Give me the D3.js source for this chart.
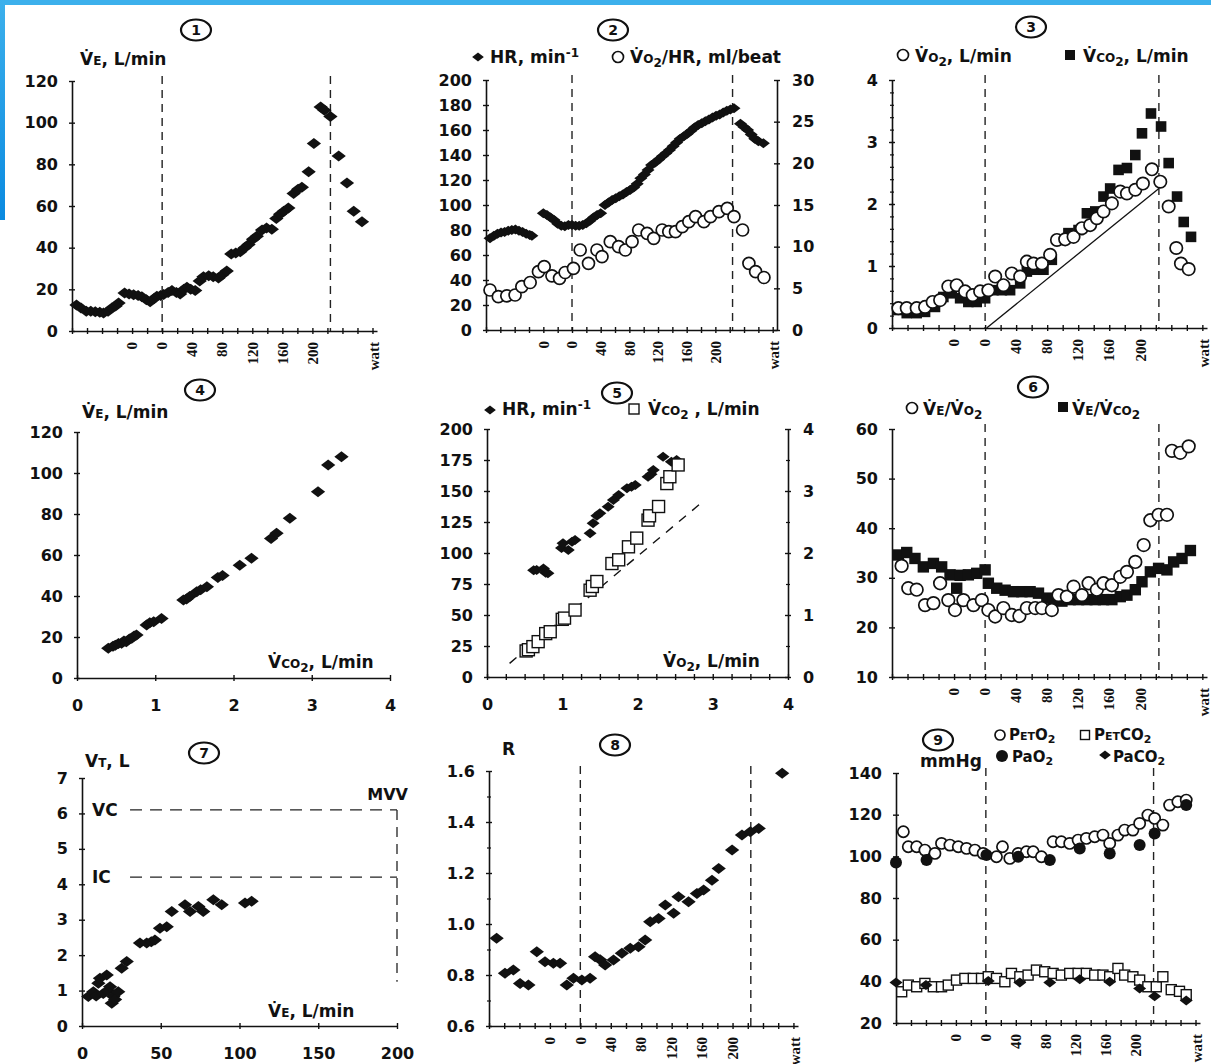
<!DOCTYPE html>
<html lang="en">
<head>
<meta charset="UTF-8">
<title>Nine-panel exercise test</title>
<script src="https://cdn.jsdelivr.net/npm/d3@7"></script>
<style>
  body { margin: 0; background: #fff; }
  svg text { font-family: "DejaVu Sans", sans-serif; font-weight: bold; fill: #111; }
  svg text.rot { font-family: "Liberation Serif", serif; }
</style>
</head>
<body>
<svg id="chart" width="1211" height="1064"></svg>
<script>
// ---- time axis (all time panels) ----
var timeTickPos = [4, 6, 8, 10, 12, 14, 16, 20.1];
var timeTickLab = ['0', '0', '40', '80', '120', '160', '200', 'watt'];
var phaseT = [6, 17.2];

// ---- panel 1: VE vs time ----
var ve = [[0.3,12.5],[0.6,11],[0.95,9.5],[1.25,9.5],[1.55,9.3],[1.85,9],[2.1,8.6],[2.4,9.5],[2.65,11],[2.9,12],[3.1,13.4],
  [3.5,18.2],[3.8,17.8],[4.1,17.4],[4.4,17],[4.65,16.5],[4.95,15],[5.2,14],[5.45,15.5],[5.65,16.7],[5.9,17],[6.1,17.5],
  [6.4,18.5],[6.65,19.5],[6.95,18.5],[7.2,17.8],[7.45,20],[7.65,21],[7.9,20],[8.2,19.5],[8.5,24],[8.75,26],[9.1,26.5],
  [9.4,26],[9.75,25.5],[10,27],[10.3,28.8],[10.6,37],[10.9,37.5],[11.2,38],[11.5,40],[11.75,41.5],[12.05,44],[12.3,45.5],
  [12.65,48.5],[12.95,49.5],[13.3,48.8],[13.6,54],[13.85,56],[14.1,57.5],[14.4,59],[14.75,66],[15.05,68],[15.3,69],
  [15.75,76.5],[16.1,90],[16.55,107.5],[16.8,106],[17.2,103],[17.75,84],[18.3,71],[18.75,57.5],[19.3,52.5]];

// ---- panel 2: HR and VO2/HR vs time ----
var hr = [[0.28,73.5],[0.55,75.5],[0.8,77],[1.05,78],[1.3,78.5],[1.55,79.5],[1.8,80],[2.05,80.5],[2.3,79.5],[2.55,78.5],
  [2.8,77],[3.05,76],[3.2,75.5],[4.0,93.5],[4.25,92],[4.5,90],[4.75,88],[5.0,85],[5.25,83.5],[5.5,83],[5.75,84],[6.0,84],
  [6.25,83.5],[6.5,83.5],[6.75,84],[7.0,85.5],[7.25,87.5],[7.5,90],[7.75,92],[8.0,93.5],[8.3,100],[8.55,102],[8.8,104],
  [9.05,105.5],[9.3,107],[9.55,108.5],[9.8,110.5],[10.05,112],[10.3,114],[10.55,117],[10.8,121.5],[11.05,124.5],
  [11.3,128],[11.55,132],[11.8,134],[12.05,136.5],[12.3,139],[12.55,141.5],[12.8,144],[13.05,147],[13.3,150],
  [13.55,153],[13.8,155],[14.05,157],[14.3,159.5],[14.55,162],[14.8,164],[15.05,165.5],[15.3,167],[15.55,168.5],
  [15.8,170],[16.05,171.5],[16.3,172.5],[16.55,174],[16.8,175.5],[17.05,176.5],[17.3,177.5],[17.75,165],[18.0,162.5],
  [18.25,160],[18.5,156.5],[18.75,153],[19.0,151],[19.35,149.5]];
var o2pulse = [[0.28,4.8],[0.86,4.0],[1.45,4.1],[2.03,4.2],[2.5,5.2],[3.08,5.7],[3.66,7.0],[4.06,7.6],[4.6,6.5],[5.13,6.2],
  [5.52,6.9],[6.1,7.4],[6.57,9.6],[7.15,8.0],[7.74,9.6],[8.09,8.8],[8.67,10.6],[9.25,10.0],[9.72,9.6],[10.19,10.6],
  [10.65,12.0],[11.24,11.6],[11.7,11.0],[12.29,12.0],[12.75,11.8],[13.22,11.8],[13.69,12.4],[14.15,13.0],[14.62,13.6],
  [15.2,13.0],[15.66,13.6],[16.25,14.2],[16.83,14.6],[17.3,13.6],[17.9,12.0],[18.34,8.0],[18.81,7.0],[19.39,6.3]];

// ---- panel 3: VO2 and VCO2 vs time ----
var vo2 = [[0.41,0.32],[0.95,0.32],[1.59,0.32],[2.13,0.34],[2.62,0.42],[3.1,0.45],[3.63,0.67],[4.17,0.69],[4.71,0.59],
  [5.2,0.53],[5.68,0.59],[6.21,0.61],[6.65,0.83],[7.18,0.69],[7.72,0.88],[8.26,0.83],[8.69,1.07],[9.12,1.04],[9.66,1.04],
  [10.19,1.18],[10.63,1.42],[11.16,1.43],[11.7,1.47],[12.24,1.61],[12.77,1.66],[13.2,1.77],[13.63,1.88],[14.17,2.01],
  [14.71,2.2],[15.14,2.17],[15.68,2.23],[16.17,2.33],[16.75,2.56],[17.29,2.36],[17.83,1.96],[18.32,1.29],[18.62,1.04],[19.12,0.95]];
var vco2 = [[0.41,0.29],[0.95,0.24],[1.59,0.24],[2.13,0.26],[2.77,0.34],[3.31,0.5],[3.85,0.56],[4.39,0.48],[4.92,0.42],
  [5.46,0.42],[6.0,0.48],[6.54,0.61],[7.08,0.61],[7.61,0.61],[8.26,0.72],[8.69,0.91],[9.23,0.94],[9.76,0.94],[10.3,1.1],
  [10.84,1.42],[11.37,1.53],[12.02,1.58],[12.56,1.85],[13.1,1.88],[13.63,2.12],[14.06,2.25],[14.6,2.55],[15.14,2.58],
  [15.68,2.79],[16.11,3.14],[16.69,3.46],[17.34,3.25],[17.83,2.66],[18.37,2.12],[18.8,1.71],[19.27,1.47]];
var slopeLine3 = [[6.1,0],[17.2,2.25]];

// ---- panel 4: VE vs VCO2 ----
var veVco2 = [[0.40,14.5],[0.46,15.5],[0.49,16],[0.53,16.8],[0.57,17],[0.6,18],[0.63,17.7],[0.67,19],[0.70,19.4],
  [0.73,20.5],[0.76,21],[0.89,25.9],[0.93,27],[0.98,27.5],[1.08,29],[1.36,38],[1.40,38.5],[1.44,39.7],[1.53,42.1],
  [1.58,43],[1.66,44.5],[1.80,49],[1.86,50],[2.08,55],[2.23,58.4],[2.48,68.1],[2.55,70.6],[2.72,77.9],[3.08,90.9],
  [3.21,103.9],[3.38,107.9]];

// ---- panel 5: HR and VCO2 vs VO2 ----
var hrVo2 = [[0.62,86],[0.66,86.3],[0.75,87.6],[0.78,84],[0.81,83.6],[0.99,104],[1.01,107.8],[1.08,102.4],[1.13,109],
  [1.17,110.5],[1.37,115.9],[1.41,123.9],[1.46,130],[1.5,132],[1.61,137.3],[1.68,142.7],[1.75,146.8],[1.86,152.2],
  [1.92,153.5],[1.97,154.8],[2.14,161.5],[2.18,163.5],[2.21,166.9],[2.34,177.7],[2.45,173.6],[2.52,175]];
var vco2Vo2 = [[0.52,0.42],[0.55,0.44],[0.61,0.49],[0.68,0.57],[0.78,0.7],[0.84,0.73],[1.0,0.93],[1.03,0.95],[1.17,1.08],
  [1.37,1.40],[1.4,1.46],[1.46,1.54],[1.66,1.83],[1.75,1.89],[1.88,2.10],[1.99,2.24],[2.14,2.53],[2.16,2.6],[2.28,2.75],
  [2.39,3.12],[2.43,3.23],[2.54,3.42]];
var rqLine = [[0.3,0.22],[2.82,2.78]];

// ---- panel 6: VE/VO2 and VE/VCO2 vs time ----
var eqO2 = [[0.62,32.4],[1.05,27.9],[1.59,27.6],[2.13,24.5],[2.67,24.9],[3.1,28.9],[3.63,25.5],[4.06,23.5],[4.6,25.5],
  [5.25,24.5],[5.79,25.5],[6.21,23.5],[6.65,22.2],[7.18,23.9],[7.72,22.5],[8.21,22.3],[8.69,23.9],[9.23,23.9],[9.66,23.9],
  [10.3,23.5],[10.73,26.5],[11.27,26.2],[11.7,28.2],[12.24,26.5],[12.67,28.9],[13.2,27.6],[13.63,28.9],[14.17,28.5],
  [14.71,30.2],[15.14,31.2],[15.68,33.2],[16.22,36.6],[16.65,41.6],[17.18,42.7],[17.72,42.7],[18.04,55.6],[18.58,55.2],[19.12,56.5]];
var eqCO2 = [[0.41,34.6],[0.95,35.1],[1.48,33.9],[2.02,32.2],[2.67,32.9],[3.2,32.2],[3.74,30.6],[4.17,27.9],[4.39,30.5],
  [4.92,30.6],[5.46,30.9],[6.0,31.6],[6.21,28.9],[6.75,27.9],[7.29,27.5],[7.83,27.2],[8.37,27.2],[8.9,27.2],[9.44,26.9],
  [9.98,25.9],[10.41,25.6],[10.95,25.3],[11.48,25.6],[12.02,25.6],[12.56,25.6],[13.1,25.6],[13.63,25.6],[14.17,25.6],
  [14.71,26.2],[15.14,26.5],[15.68,27.6],[16.11,29.2],[16.65,31.2],[17.18,31.9],[17.72,31.6],[18.15,33.2],[18.69,33.9],[19.23,35.5]];

// ---- panel 7: VT vs VE ----
var vtVe = [[4,0.83],[7.2,0.97],[9,0.85],[10.4,1.21],[11.4,1.35],[13.5,0.92],[15.7,1.44],[16.5,1.0],[17.8,1.11],[18.9,0.64],
  [19.9,0.83],[21,0.75],[23,0.97],[25.2,1.63],[28.4,1.82],[36.8,2.34],[41.1,2.34],[44,2.38],[46.3,2.43],[49.5,2.76],
  [53.8,2.8],[57,3.23],[65.4,3.42],[68.6,3.23],[73.9,3.37],[77,3.23],[83.4,3.56],[88.7,3.42],[103.5,3.47],[107.7,3.52]];
var vcLevel = 6.1, icLevel = 4.2, mvvLevel = 200, refStartVe = 30.5, mvvBottom = 1.25;

// ---- panel 8: R vs time ----
var rq = [[0.5,0.944],[1.05,0.807],[1.6,0.82],[2.04,0.767],[2.59,0.761],[3.14,0.891],[3.68,0.852],[4.23,0.846],[4.67,0.846],
  [5.11,0.761],[5.55,0.787],[6.1,0.78],[6.64,0.787],[6.97,0.872],[7.3,0.86],[7.63,0.839],[8.18,0.859],[8.73,0.885],[9.28,0.905],
  [9.82,0.911],[10.26,0.937],[10.59,1.009],[11.14,1.022],[11.58,1.075],[12.13,1.042],[12.45,1.107],[13.11,1.087],
  [13.66,1.12],[14.1,1.133],[14.65,1.172],[15.09,1.218],[15.97,1.29],[16.62,1.349],[17.17,1.362],[17.72,1.375],[19.26,1.591]];

// ---- panel 9: gas tensions vs time ----
var petO2 = [[0.49,111.8],[0.82,104.6],[1.38,104.6],[1.93,103],[2.6,101.4],[3.04,106.2],[3.6,105.4],[4.16,104.6],[4.71,103.8],
  [5.27,103],[5.82,101.4],[6.71,99.8],[7.11,104.6],[7.6,99],[8.16,101.4],[8.71,102.2],[9.16,102.2],[9.71,99.8],[10.49,107],
  [11.04,107],[11.6,106.2],[12.16,107.8],[12.71,108.6],[13.27,109.4],[13.82,110.2],[14.27,106.2],[14.82,110.2],[15.27,112.6],
  [15.82,112.6],[16.27,115.8],[16.82,119.8],[17.27,118.2],[17.82,115],[18.27,124.6],[18.82,126.2],[19.38,127]];
var paO2 = [[0.0,97],[2.04,98.2],[6.04,100.6],[8.16,99.8],[10.27,98.2],[12.27,103.8],[14.27,101.4],[16.27,105.4],[17.27,111],[19.38,124.6]];
var petCO2 = [[0.38,35],[0.82,38.2],[1.38,37.4],[1.93,39],[2.49,37.4],[3.04,37.4],[3.49,38.2],[4.04,40.6],[4.6,41.4],[5.16,41.4],
  [5.71,41.4],[6.16,42.2],[6.71,41.4],[7.27,39.8],[7.71,43.8],[8.27,42.2],[8.82,43],[9.38,45.4],[9.93,44.6],[10.49,43.8],
  [11.04,43],[11.6,43.8],[12.16,43.8],[12.71,43.8],[13.27,43],[13.82,43],[14.27,42.2],[14.82,46.2],[15.27,43],[15.82,42.2],
  [16.27,40.6],[16.82,37.4],[17.38,37.4],[17.82,42.2],[18.38,36],[18.93,35.2],[19.38,33.6]];
var paCO2 = [[0.0,39.5],[2.0,38.2],[6.16,40.2],[8.27,39.5],[10.27,39.5],[12.27,41],[14.27,39.8],[16.27,36.6],[17.27,32.8],[19.38,30.8]];

var INK = '#111';
var svg = d3.select('#chart');

// blue frame strips
var defs = svg.append('defs');
var grad = defs.append('linearGradient').attr('id', 'blueBar').attr('x1', 0).attr('y1', 0).attr('x2', 0).attr('y2', 1);
grad.append('stop').attr('offset', '0%').attr('stop-color', '#3cb0ec');
grad.append('stop').attr('offset', '100%').attr('stop-color', '#0a8ae0');
svg.append('rect').attr('x', 0).attr('y', 0).attr('width', 1211).attr('height', 5).attr('fill', '#3cb0ec');
svg.append('rect').attr('x', 0).attr('y', 0).attr('width', 5).attr('height', 220).attr('fill', 'url(#blueBar)');

// ---------- helpers ----------
function styleAxis(a, dir, size) {
  a.attr('font-size', size || 16).attr('font-family', 'DejaVu Sans');
  a.select('.domain').attr('stroke', INK).attr('stroke-width', 1.6);
  a.selectAll('.tick line').attr(dir + '1', -3).attr(dir + '2', 3).attr('stroke', INK).attr('stroke-width', 1.4);
  a.selectAll('.tick text').attr('fill', INK);
}

function leftAxis(g, y, xpos, values, fmt, minor) {
  var a = g.append('g').attr('transform', 'translate(' + xpos + ',0)')
    .call(d3.axisLeft(y).tickValues(values).tickSize(3).tickPadding(11).tickSizeOuter(0).tickFormat(fmt || d3.format('d')));
  styleAxis(a, 'x');
  if (minor) {
    var m = g.append('g').attr('transform', 'translate(' + xpos + ',0)')
      .call(d3.axisLeft(y).tickValues(minor).tickSize(2).tickFormat(''));
    m.select('.domain').remove();
    m.selectAll('.tick line').attr('x1', -2).attr('x2', 2).attr('stroke', INK).attr('stroke-width', 1.2);
  }
}

function rightAxis(g, y, xpos, values, minor) {
  var a = g.append('g').attr('transform', 'translate(' + xpos + ',0)')
    .call(d3.axisRight(y).tickValues(values).tickSize(3).tickPadding(12).tickSizeOuter(0).tickFormat(d3.format('d')));
  styleAxis(a, 'x');
  if (minor) {
    var m = g.append('g').attr('transform', 'translate(' + xpos + ',0)')
      .call(d3.axisRight(y).tickValues(minor).tickSize(2).tickFormat(''));
    m.select('.domain').remove();
    m.selectAll('.tick line').attr('x1', -2).attr('x2', 2).attr('stroke', INK).attr('stroke-width', 1.2);
  }
}

function bottomAxis(g, x, ypos, values, labelled) {
  var ax = d3.axisBottom(x).tickValues(values).tickSize(3).tickPadding(19).tickSizeOuter(0);
  ax.tickFormat(function (d) { return labelled.indexOf(d) >= 0 ? d3.format('d')(d) : ''; });
  var a = g.append('g').attr('transform', 'translate(0,' + ypos + ')').call(ax);
  styleAxis(a, 'y');
}

function timeAxis(g, x, ypos) {
  var a = g.append('g').attr('transform', 'translate(0,' + ypos + ')')
    .call(d3.axisBottom(x).tickValues(d3.range(0, 21)).tickFormat('').tickSize(3).tickSizeOuter(0));
  styleAxis(a, 'y');
  g.selectAll(null).data(timeTickPos).enter().append('text')
    .attr('class', 'rot')
    .attr('font-size', 15)
    .attr('text-anchor', 'end')
    .attr('dy', '0.35em')
    .attr('transform', function (d) { return 'translate(' + x(d) + ',' + (ypos + 11) + ') rotate(-90)'; })
    .text(function (d, i) { return timeTickLab[i]; });
}

// marker shapes, drawn at pixel position
function shapeAt(g, kind, px, py, s) {
  if (kind === 'dia') {
    var w = s * 1.3, h = s;
    g.append('path').attr('d', 'M' + px + ',' + (py - h) + 'L' + (px + w) + ',' + py + 'L' + px + ',' + (py + h) + 'L' + (px - w) + ',' + py + 'Z')
      .attr('fill', INK);
  } else if (kind === 'circ') {
    g.append('circle').attr('cx', px).attr('cy', py).attr('r', s).attr('fill', '#fff').attr('stroke', INK).attr('stroke-width', 1.7);
  } else if (kind === 'dot') {
    g.append('circle').attr('cx', px).attr('cy', py).attr('r', s).attr('fill', INK);
  } else if (kind === 'sq') {
    g.append('rect').attr('x', px - s).attr('y', py - s).attr('width', 2 * s).attr('height', 2 * s).attr('fill', INK);
  } else if (kind === 'osq') {
    g.append('rect').attr('x', px - s).attr('y', py - s).attr('width', 2 * s).attr('height', 2 * s)
      .attr('fill', '#fff').attr('stroke', INK).attr('stroke-width', 1.4);
  }
}

function marks(g, data, x, y, kind, s) {
  data.forEach(function (d) { shapeAt(g, kind, x(d[0]), y(d[1]), s); });
}

// text with small caps / subscripts / superscripts
function rich(x, y, parts, size, anchor) {
  size = size || 17;
  var t = svg.append('text').attr('x', x).attr('y', y).attr('font-size', size).attr('text-anchor', anchor || 'start');
  var off = 0;
  parts.forEach(function (p) {
    var kind = p[1] || 'n';
    var target = kind === 'sub' ? Math.round(size * 0.22) : (kind === 'sup' ? -6 : 0);
    var sp = t.append('tspan').attr('dy', target - off).text(p[0]);
    off = target;
    if (kind !== 'n') sp.attr('font-size', Math.round(size * 0.72));
  });
  return t;
}

function badge(cx, cy, n) {
  svg.append('ellipse').attr('cx', cx).attr('cy', cy).attr('rx', 15).attr('ry', 10.5)
    .attr('fill', 'none').attr('stroke', INK).attr('stroke-width', 2.2);
  svg.append('text').attr('x', cx).attr('y', cy + 5).attr('text-anchor', 'middle').attr('font-size', 14).text(n);
}

function timePanel(x0, x1, yT, yB, yDom, yTicks, fmt, minor) {
  var g = svg.append('g');
  var x = d3.scaleLinear().domain([0, 20.3]).range([x0, x1]);
  var y = d3.scaleLinear().domain(yDom).range([yB, yT]);
  phaseT.forEach(function (t) {
    g.append('line').attr('x1', x(t)).attr('x2', x(t)).attr('y1', yT - 5).attr('y2', yB)
      .attr('stroke', '#222').attr('stroke-width', 1.4).attr('stroke-dasharray', '8,6');
  });
  timeAxis(g, x, yB);
  leftAxis(g, y, x0, yTicks, fmt, minor);
  return { g: g, x: x, y: y };
}

var VDOT = 'V\u0307';
var line = d3.line();

// ---------- panel 1 ----------
var p1 = timePanel(72, 377, 81, 331, [0, 120], d3.range(0, 121, 20));
marks(p1.g, ve, p1.x, p1.y, 'dia', 5.5);
badge(196, 30, '1');
rich(80, 65, [[VDOT], ['E', 's'], [', L/min']]);

// ---------- panel 2 ----------
var p2 = timePanel(486, 777, 80, 330, [0, 200], d3.range(0, 201, 20));
var y2r = d3.scaleLinear().domain([0, 30]).range([330, 80]);
rightAxis(p2.g, y2r, 777, d3.range(0, 31, 5));
marks(p2.g, hr, p2.x, p2.y, 'dia', 5);
marks(p2.g, o2pulse, p2.x, y2r, 'circ', 6);
badge(613, 30, '2');
shapeAt(svg, 'dia', 478, 57, 4.5);
rich(490, 63, [['HR, min'], ['-1', 'sup']]);
shapeAt(svg, 'circ', 618, 57, 5.5);
rich(630, 63, [[VDOT], ['O', 's'], ['2', 'sub'], ['/HR, ml/beat']]);

// ---------- panel 3 ----------
var p3 = timePanel(892, 1207, 80, 328, [0, 4], d3.range(0, 5), d3.format('d'), d3.range(0.2, 4, 0.2));
p3.g.append('path').datum(slopeLine3)
  .attr('d', line.x(function (d) { return p3.x(d[0]); }).y(function (d) { return p3.y(d[1]); }))
  .attr('fill', 'none').attr('stroke', INK).attr('stroke-width', 1.3);
marks(p3.g, vco2, p3.x, p3.y, 'sq', 5.3);
marks(p3.g, vo2, p3.x, p3.y, 'circ', 6.2);
badge(1031, 27, '3');
shapeAt(svg, 'circ', 903, 55, 5.5);
rich(915, 62, [[VDOT], ['O', 's'], ['2', 'sub'], [', L/min']]);
shapeAt(svg, 'sq', 1070, 55, 5);
rich(1083, 62, [[VDOT], ['CO', 's'], ['2', 'sub'], [', L/min']]);

// ---------- panel 4 ----------
var g4 = svg.append('g');
var x4 = d3.scaleLinear().domain([0, 4]).range([77, 390]);
var y4 = d3.scaleLinear().domain([0, 120]).range([678, 432]);
bottomAxis(g4, x4, 678, d3.range(0, 5), d3.range(0, 5));
leftAxis(g4, y4, 77, d3.range(0, 121, 20));
marks(g4, veVco2, x4, y4, 'dia', 5.5);
badge(200, 390, '4');
rich(82, 418, [[VDOT], ['E', 's'], [', L/min']]);
rich(268, 668, [[VDOT], ['CO', 's'], ['2', 'sub'], [', L/min']]);

// ---------- panel 5 ----------
var g5 = svg.append('g');
var x5 = d3.scaleLinear().domain([0, 4]).range([487, 788]);
var y5 = d3.scaleLinear().domain([0, 200]).range([677, 429]);
var y5r = d3.scaleLinear().domain([0, 4]).range([677, 429]);
bottomAxis(g5, x5, 677, d3.range(0, 4.01, 0.25), d3.range(0, 5));
leftAxis(g5, y5, 487, d3.range(0, 201, 25));
rightAxis(g5, y5r, 788, d3.range(0, 5), d3.range(0.5, 4, 1));
g5.append('path').datum(rqLine)
  .attr('d', d3.line().x(function (d) { return x5(d[0]); }).y(function (d) { return y5r(d[1]); }))
  .attr('fill', 'none').attr('stroke', INK).attr('stroke-width', 1.4).attr('stroke-dasharray', '9,8');
marks(g5, hrVo2, x5, y5, 'dia', 5);
marks(g5, vco2Vo2, x5, y5r, 'osq', 6);
badge(617, 393, '5');
shapeAt(svg, 'dia', 490, 410, 4.5);
rich(502, 415, [['HR, min'], ['-1', 'sup']]);
shapeAt(svg, 'osq', 634, 409, 5);
rich(648, 415, [[VDOT], ['CO', 's'], ['2', 'sub'], [' , L/min']]);
rich(663, 667, [[VDOT], ['O', 's'], ['2', 'sub'], [', L/min']]);

// ---------- panel 6 ----------
var p6 = timePanel(892, 1207, 429, 677, [10, 60], d3.range(10, 61, 10));
marks(p6.g, eqCO2, p6.x, p6.y, 'sq', 5.7);
marks(p6.g, eqO2, p6.x, p6.y, 'circ', 6.3);
badge(1033, 387, '6');
shapeAt(svg, 'circ', 912, 408, 5.5);
rich(923, 415, [[VDOT], ['E', 's'], ['/'], [VDOT], ['O', 's'], ['2', 'sub']]);
shapeAt(svg, 'sq', 1063, 407, 5);
rich(1072, 415, [[VDOT], ['E', 's'], ['/'], [VDOT], ['CO', 's'], ['2', 'sub']]);

// ---------- panel 7 ----------
var g7 = svg.append('g');
var x7 = d3.scaleLinear().domain([0, 200]).range([82, 397]);
var y7 = d3.scaleLinear().domain([0, 7]).range([1026, 778]);
bottomAxis(g7, x7, 1026, d3.range(0, 201, 50), d3.range(0, 201, 50));
leftAxis(g7, y7, 82, d3.range(0, 8));
[vcLevel, icLevel].forEach(function (lv) {
  g7.append('line').attr('x1', x7(refStartVe)).attr('x2', x7(mvvLevel)).attr('y1', y7(lv)).attr('y2', y7(lv))
    .attr('stroke', '#222').attr('stroke-width', 1.3).attr('stroke-dasharray', '12,8');
});
g7.append('line').attr('x1', x7(mvvLevel)).attr('x2', x7(mvvLevel)).attr('y1', y7(vcLevel)).attr('y2', y7(mvvBottom))
  .attr('stroke', '#222').attr('stroke-width', 1.3).attr('stroke-dasharray', '10,7');
marks(g7, vtVe, x7, y7, 'dia', 5.5);
badge(204, 753, '7');
rich(85, 767, [['V'], ['T', 's'], [', L']]);
rich(92, 816, [['VC']]);
rich(92, 883, [['IC']]);
rich(408, 800, [['MVV']], 16, 'end');
rich(268, 1017, [[VDOT], ['E', 's'], [', L/min']]);

// ---------- panel 8 ----------
var p8 = timePanel(489, 798, 771, 1026, [0.6, 1.6], d3.range(0.6, 1.61, 0.2), d3.format('.1f'), d3.range(0.7, 1.6, 0.2));
marks(p8.g, rq, p8.x, p8.y, 'dia', 5.5);
badge(615, 745, '8');
rich(502, 755, [['R']]);

// ---------- panel 9 ----------
var p9 = timePanel(896, 1200, 773, 1023, [20, 140], d3.range(20, 141, 20));
marks(p9.g, petCO2, p9.x, p9.y, 'osq', 5);
marks(p9.g, paCO2, p9.x, p9.y, 'dia', 5);
marks(p9.g, petO2, p9.x, p9.y, 'circ', 5.6);
marks(p9.g, paO2, p9.x, p9.y, 'dot', 6);
badge(938, 740, '9');
rich(920, 767, [['mmHg']]);
shapeAt(svg, 'circ', 1000, 735, 5);
rich(1009, 740, [['P'], ['ET', 's'], ['O'], ['2', 'sub']], 15);
shapeAt(svg, 'osq', 1085, 735, 4.5);
rich(1094, 740, [['P'], ['ET', 's'], ['CO'], ['2', 'sub']], 15);
shapeAt(svg, 'dot', 1002, 756, 6);
rich(1012, 762, [['PaO'], ['2', 'sub']], 15);
shapeAt(svg, 'dia', 1105, 755, 4.5);
rich(1113, 762, [['PaCO'], ['2', 'sub']], 15);
</script>
</body>
</html>
